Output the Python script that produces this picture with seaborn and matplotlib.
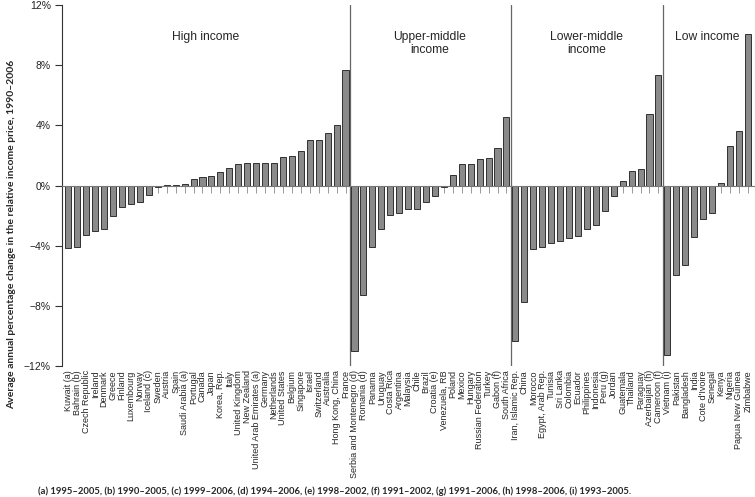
import matplotlib
matplotlib.use("Agg")
import matplotlib.pyplot as plt
import seaborn as sns
import pandas as pd
from matplotlib.ticker import FuncFormatter

high_countries = ["Kuwait (a)", "Bahrain (b)", "Czech Republic", "Ireland", "Denmark", "Greece",
                  "Finland", "Luxembourg", "Norway", "Iceland (c)", "Sweden", "Austria", "Spain",
                  "Saudi Arabia (a)", "Portugal", "Canada", "Japan", "Korea, Rep.", "Italy",
                  "United Kingdom", "New Zealand", "United Arab Emirates (a)", "Germany",
                  "Netherlands", "United States", "Belgium", "Singapore", "Israel", "Switzerland",
                  "Australia", "Hong Kong, China", "France"]
high_values = [-4.17, -4.1, -3.3, -3.0, -2.9, -2.0, -1.45, -1.25, -1.1, -0.63, -0.12, 0.02, 0.05,
               0.1, 0.4, 0.58, 0.65, 0.9, 1.18, 1.4, 1.5, 1.5, 1.5, 1.5, 1.9, 1.95, 2.27, 3.0,
               3.05, 3.48, 4.04, 7.65]

upper_countries = ["Serbia and Montenegro (d)", "Romania (d)", "Panama", "Uruguay", "Costa Rica",
                   "Argentina", "Malaysia", "Chile", "Brazil", "Croatia (e)", "Venezuela, RB",
                   "Poland", "Mexico", "Hungary", "Russian Federation", "Turkey", "Gabon (f)",
                   "South Africa"]
upper_values = [-11.0, -7.3, -4.1, -2.9, -1.95, -1.8, -1.55, -1.55, -1.08, -0.72, -0.1, 0.67,
                1.4, 1.45, 1.74, 1.8, 2.5, 4.58]

lower_countries = ["Iran, Islamic Rep.", "China", "Morocco", "Egypt, Arab Rep.", "Tunisia",
                   "Sri Lanka", "Colombia", "Ecuador", "Philippines", "Indonesia", "Peru (g)",
                   "Jordan", "Guatemala", "Thailand", "Paraguay", "Azerbaijan (h)", "Cameroon (f)"]
lower_values = [-10.35, -7.75, -4.22, -4.1, -3.8, -3.7, -3.5, -3.36, -2.92, -2.63, -1.7, -0.7,
                0.27, 0.97, 1.1, 4.75, 7.35]

low_countries = ["Vietnam (i)", "Pakistan", "Bangladesh", "India", "Cote d'Ivoire", "Senegal",
                 "Kenya", "Nigeria", "Papua New Guinea", "Zimbabwe"]
low_values = [-11.3, -5.95, -5.3, -3.4, -2.2, -1.8, 0.15, 2.65, 3.6, 10.1]

group_names = ["High income", "Upper-middle\nincome", "Lower-middle\nincome", "Low income"]
y_ticks = [-12, -8, -4, 0, 4, 8, 12]
y_label = "Average annual percentage change in the relative income price, 1990\u20132006"
footnote = ("(a) 1995\u20132005, (b) 1990\u20132005, (c) 1999\u20132006, (d) 1994\u20132006, "
            "(e) 1998\u20132002, (f) 1991\u20132002, (g) 1991\u20132006, (h) 1998\u20132006, "
            "(i) 1993\u20132005.")

groups = [(high_countries, high_values), (upper_countries, upper_values),
          (lower_countries, lower_values), (low_countries, low_values)]
countries = sum([g[0] for g in groups], [])
values = sum([g[1] for g in groups], [])
df = pd.DataFrame({"country": countries, "value": values})

sns.set_style("white")
plt.rcParams["font.family"] = ["Liberation Sans", "DejaVu Sans"]

fig = plt.figure(figsize=(7.55, 4.97), dpi=100)
ax = fig.add_axes([62 / 755, 1 - 366 / 497, 692 / 755, 361 / 497])

sns.barplot(data=df, x="country", y="value", color="#8a8a8a", saturation=1,
            edgecolor="#1a1a1a", linewidth=0.6, width=0.68, ax=ax, zorder=3)

ax.set_xlim(-0.715, len(countries) - 0.31)
ax.set_ylim(-12, 12)
ax.set_yticks(y_ticks)
ax.yaxis.set_major_formatter(FuncFormatter(lambda v, p: f"{int(v)}%".replace("-", "\u2212")))
ax.tick_params(axis="y", direction="out", length=5, width=0.8, color="#333333",
               labelsize=7.5, pad=3, left=True, labelcolor="#222222")

for s in ["top", "right"]:
    ax.spines[s].set_visible(False)
ax.spines["left"].set_color("#333333")
ax.spines["left"].set_linewidth(0.8)
ax.spines["bottom"].set_position(("data", 0))
ax.spines["bottom"].set_color("#777777")
ax.spines["bottom"].set_linewidth(0.8)
ax.spines["bottom"].set_zorder(4)
ax.set_xticks(range(len(countries)))
ax.tick_params(axis="x", direction="out", length=5, width=0.7, color="#999999",
               labelbottom=False, bottom=True)
ax.set_xlabel("")
ax.set_ylabel("")

sec = ax.secondary_xaxis("bottom")
sec.set_xticks(range(len(countries)), countries, rotation=90, fontsize=6.5)
sec.tick_params(length=0, pad=3)
for s in sec.spines.values():
    s.set_visible(False)

# group separators
bounds = []
n = 0
for g in groups[:-1]:
    n += len(g[0])
    bounds.append(n - 0.5)
for b in bounds:
    ax.axvline(b, color="#666666", linewidth=0.9, zorder=2)

# group titles
label_x = [15.4, 40.45, 58.0, 71.5]
label_y = [9.87, 9.47, 9.47, 9.87]
for name, lx, ly in zip(group_names, label_x, label_y):
    ax.text(lx, ly, name, ha="center", va="center", fontsize=8.7, linespacing=1.1,
            bbox=dict(facecolor="white", edgecolor="none", pad=1), zorder=5)

fig.text(12 / 755, 1 - 234 / 497, y_label, rotation=90, ha="center", va="center",
         fontsize=7.5, fontweight="bold", family=["Lato", "DejaVu Sans"])
fig.text(38 / 755, 1 - 491 / 497, footnote, ha="left", va="center",
         fontsize=6.8, fontweight="bold", family=["Lato", "DejaVu Sans"])

fig.savefig("out.png", dpi=100)
